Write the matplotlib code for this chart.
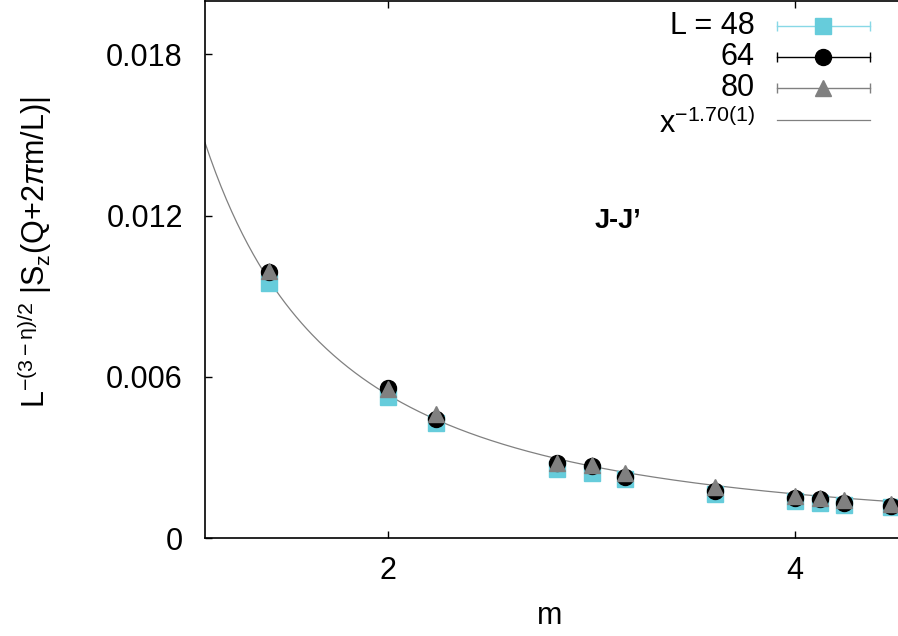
import numpy as np
import matplotlib
matplotlib.use('Agg')
import matplotlib.pyplot as plt
from matplotlib.lines import Line2D

plt.rcParams['font.family'] = ['Liberation Sans', 'DejaVu Sans']
plt.rcParams['mathtext.fontset'] = 'custom'
plt.rcParams['mathtext.rm'] = 'Liberation Sans'
plt.rcParams['mathtext.it'] = 'Liberation Sans:italic'
plt.rcParams['mathtext.sf'] = 'Liberation Sans'

# momentum offsets m = |(i, j)|
m = np.sqrt([2, 4, 5, 8, 9, 10, 13, 16, 17, 18, 20])

sz_48 = [0.00950, 0.00523, 0.00428, 0.00258, 0.00242, 0.00221, 0.00164, 0.00138, 0.00130, 0.00123, 0.00115]
sz_64 = [0.00990, 0.00559, 0.00441, 0.00278, 0.00268, 0.00228, 0.00176, 0.00150, 0.00144, 0.00131, 0.00119]
sz_80 = [0.00993, 0.00554, 0.00461, 0.00279, 0.00273, 0.00243, 0.00191, 0.00157, 0.00150, 0.00141, 0.00126]

fit_amp = 0.0173
fit_exp = -1.70

labels = ['L = 48', '64', '80', r'$\mathregular{x^{-1.70(1)}}$']
cyan = '#66CCDB'
gray = '#808080'
FS = 22

W, H = 898, 636
fig = plt.figure(figsize=(W / 100, H / 100), dpi=100)
ax = fig.add_axes([205 / W, 98 / H, (907 - 205) / W, (538 - 0.5) / H])

xs = np.linspace(1.1, 4.6, 400)
ax.plot(xs, fit_amp * xs ** fit_exp, color=gray, lw=0.9, zorder=1)
ax.plot(m, sz_48, 's', color=cyan, ms=11.5, zorder=2)
ax.plot(m, sz_64, 'o', color='black', ms=11.5, zorder=3)
ax.plot(m, sz_80, '^', color=gray, ms=11, zorder=4)

ax.set_xlim(1.1, 4.55)
ax.set_ylim(0, 0.020)
ax.set_xticks([2, 4])
ax.set_yticks([0, 0.006, 0.012, 0.018])
ax.set_yticklabels(['0', '0.006', '0.012', '0.018'])
ax.tick_params(direction='in', length=5, width=1, top=True, right=True,
               labelsize=FS)
ax.tick_params(axis='y', pad=16)
ax.tick_params(axis='x', pad=13)
for s in ax.spines.values():
    s.set_linewidth(1.2)

ax.text(3.13, 0.0118, "J-J\u2019", fontsize=19.5, fontweight='bold',
        ha='center', va='center')

fig.text(550 / W, 1 - 616 / H, 'm', fontsize=FS, ha='center', va='center')
fig.text(35 / W, 1 - 252 / H,
         r'L$\mathregular{^{-(3-\eta)/2}}$ |S$\mathregular{_z}$(Q+2$\pi$m/L)|',
         fontsize=FS, rotation=90, ha='center', va='center')

# key drawn by hand, gnuplot style
def fx(px):
    return px / W

def fy(py):
    return 1 - py / H

rows = [26, 57, 88, 120]
styles = [(cyan, 's', 11.5), ('black', 'o', 11.5), (gray, '^', 11)]
for i, (lab, y) in enumerate(zip(labels, rows)):
    ty = y if i < 3 else y + 4
    fig.text(fx(755), fy(ty), lab, fontsize=FS, ha='right', va='center')
    if i < 3:
        c, mk, ms = styles[i]
        lc = '#88D8E6' if i == 0 else c
        fig.add_artist(Line2D([fx(777), fx(870)], [fy(y), fy(y)], color=lc, lw=1))
        fig.add_artist(Line2D([fx(777), fx(870)], [fy(y), fy(y)], color=lc,
                              ls='none', marker='|', ms=7, mew=1))
        fig.add_artist(Line2D([fx(823)], [fy(y)], color=c, marker=mk, ms=ms, ls='none'))
    else:
        fig.add_artist(Line2D([fx(777), fx(870)], [fy(y), fy(y)], color=gray, lw=0.9))

fig.savefig('out.png', dpi=100)
